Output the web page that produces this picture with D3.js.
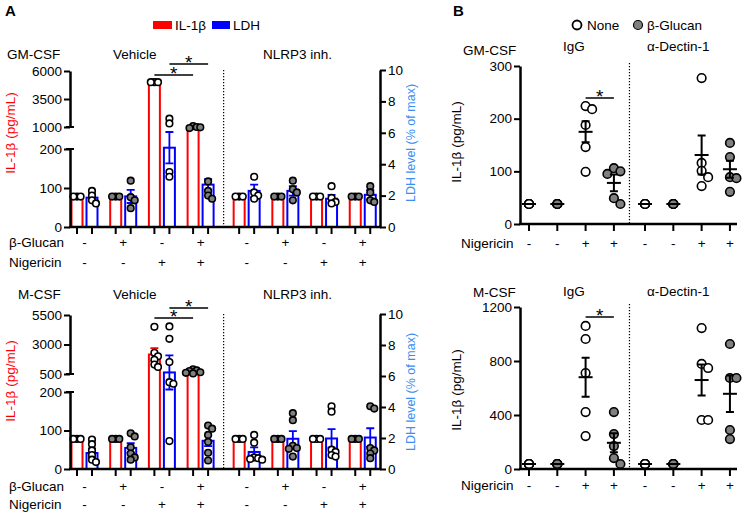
<!DOCTYPE html>
<html>
<head>
<meta charset="utf-8">
<script src="https://cdn.jsdelivr.net/npm/d3@7"></script>
<style>
body { margin: 0; background: #fff; }
svg { font-family: "Liberation Sans", Arial, sans-serif; }
</style>
</head>
<body>
<svg width="744" height="517"></svg>
<script>
// conditions
const glucanA = ["-", "+", "-", "+", "-", "+", "-", "+"];
const nigA = ["-", "-", "+", "+", "-", "-", "+", "+"];
const nigB = ["-", "-", "+", "+", "-", "-", "+", "+"];
const glucanB = [false, true, false, true, false, true, false, true];
const ldhTicks = [0, 2, 4, 6, 8, 10];

// panel A, GM-CSF
const gmIlMean = [78, 78, 5000, 1000, 78, 78, 78, 78];
const gmIlErr = [0, 0, 60, 50, 0, 0, 0, 0];
const gmIlPts = [[78, 78, 78], [78, 78, 78], [5000, 5000, 5000], [1080, 1000, 960, 990],
  [78, 78, 78], [78, 78, 78], [78, 78, 78], [78, 78, 78]];
const gmLdhMean = [1.87, 1.95, 5.05, 2.7, 2.3, 2.3, 1.8, 2.05];
const gmLdhErr = [0.2, 0.42, 1.0, 0.35, 0.4, 0.3, 0.25, 0.3];
const gmLdhPts = [[2.3, 2.0, 1.7, 1.5], [2.95, 1.9, 1.7, 1.2], [6.9, 6.6, 3.5, 3.2], [2.9, 2.3, 2.0, 1.8],
  [3.2, 2.2, 2.0, 1.8], [2.95, 2.4, 2.2, 1.7], [2.6, 1.85, 1.6, 1.5], [2.6, 2.2, 1.7, 1.6]];

// panel A, M-CSF
const mIlMean = [78, 78, 2150, 700, 78, 78, 78, 78];
const mIlErr = [0, 0, 550, 80, 0, 0, 0, 0];
const mIlPts = [[78, 78, 78], [78, 78, 78], [4500, 2300, 2000, 1700, 1300, 1100], [900, 800, 750, 650, 600, 550],
  [78, 78, 78], [78, 78, 78], [78, 78, 78], [78, 78, 78]];
const mLdhMean = [1.03, 1.36, 6.23, 1.82, 1.1, 1.95, 1.97, 2.03];
const mLdhErr = [0.3, 0.3, 1.1, 0.35, 0.3, 0.5, 0.6, 0.6];
const mLdhPts = [[1.9, 1.6, 1.2, 0.9, 0.6, 0.45], [2.3, 2.1, 1.4, 1.0, 0.75, 0.6], [9.2, 8.4, 6.9, 5.6, 5.5, 1.8],
  [2.8, 2.6, 2.2, 1.75, 1.05, 0.55], [2.2, 1.7, 0.75, 0.7, 0.65, 0.6], [3.6, 3.15, 1.5, 1.35, 1.3, 0.8],
  [4.05, 3.7, 1.25, 1.1, 0.9, 0.8], [4.05, 3.9, 1.35, 1.2, 1.0, 0.7]];

// panel B
const bGmPts = [[38, 38, 38, 38, 38], [38, 38, 38, 38, 38], [224, 218, 188, 146, 99], [106, 100, 95, 49, 38],
  [38, 38, 38, 38, 38], [38, 38, 38, 38, 38], [277, 116, 101, 89, 72], [154, 127, 89, 87, 61]];
const bGmMean = [38, 38, 175, 78, 38, 38, 131, 104];
const bGmErr = [0, 0, 20, 16, 0, 0, 37, 16];
const bMPts = [[37, 37, 37, 37, 37], [37, 37, 37, 37, 37], [1060, 963, 711, 422, 244], [422, 259, 170, 81, 37],
  [37, 37, 37, 37, 37], [37, 37, 37, 37, 37], [1044, 778, 748, 363, 363], [926, 674, 674, 289, 222]];
const bMMean = [37, 37, 680, 194, 37, 37, 659, 557];
const bMErr = [0, 0, 145, 70, 0, 0, 115, 135];

const RED = "#ff0000", BLUE = "#0000ff", LBLUE = "#3b8ef2", GRAY = "#808080";
const FS = 13.5;
const svg = d3.select("svg");

// x positions (group index -> pixel), small gap before the 2nd treatment
const xA = d3.scaleLinear().domain([0, 1]).range([84.5, 123.2]);
const gx = i => xA(i + (i >= 4 ? 0.19 : 0));
const xB = d3.scaleLinear().domain([0, 1]).range([529, 557.3]);
const gxB = i => xB(i + (i >= 4 ? 0.1 : 0));
const OFF = 7.5, BW = 11;
const XL = 70, XR = 380, XB = 520, XB2 = 737;

function styleAxis(sel) {
  sel.attr("font-family", null).attr("font-size", null);
  sel.select(".domain").attr("stroke-width", 2.5);
  sel.selectAll(".tick line").attr("stroke-width", 2);
  sel.selectAll(".tick text").attr("font-size", FS).attr("fill", "#000");
}

function txt(g, x, y, s, o = {}) {
  return g.append("text").attr("x", x).attr("y", y).text(s)
    .attr("font-size", o.size || FS).attr("fill", o.fill || "#000")
    .attr("text-anchor", o.anchor || "start").attr("font-weight", o.weight || null);
}

function vtitle(g, x, y, s, fill, size) {
  g.append("text").attr("transform", `translate(${x},${y}) rotate(-90)`)
    .attr("text-anchor", "middle").attr("font-size", size || FS).attr("fill", fill).text(s);
}

// simple dodge so overlapping dots spread sideways
function dodge(vals, y, step, stack) {
  const placed = [];
  const same = vals.every(v => v === vals[0]);
  return vals.map(v => {
    const py = y(v);
    if (stack && same) return [0, py];
    const cands = [0, step, -step, 2 * step, -2 * step];
    let dx = cands.find(c => placed.every(p => Math.hypot(p[0] - c, p[1] - py) >= step * 0.99));
    if (dx === undefined) dx = 0;
    placed.push([dx, py]);
    return [dx, py];
  });
}

function dots(g, ptsArr, xf, y, fillOf, r, step, stack) {
  const flat = [];
  ptsArr.forEach((vals, i) => dodge(vals, y, step, stack).forEach(p => flat.push({ x: xf(i) + p[0], y: p[1], i })));
  g.selectAll(null).data(flat).join("circle")
    .attr("cx", d => d.x).attr("cy", d => d.y).attr("r", r)
    .attr("fill", d => fillOf(d.i)).attr("stroke", "#000").attr("stroke-width", 1.6);
}

function errs(g, means, es, xf, y, color, cap, sw) {
  const d = means.map((m, i) => ({ m, e: es[i], x: xf(i) })).filter(d => d.e > 0);
  g.selectAll(null).data(d).join("path")
    .attr("d", d => `M${d.x},${y(d.m - d.e)}V${y(d.m + d.e)}` +
      `M${d.x - cap},${y(d.m + d.e)}H${d.x + cap}M${d.x - cap},${y(d.m - d.e)}H${d.x + cap}`)
    .attr("fill", "none").attr("stroke", color).attr("stroke-width", sw);
}

function star(g, a, b, yy) {
  g.append("line").attr("x1", a).attr("x2", b).attr("y1", yy).attr("y2", yy)
    .attr("stroke", "#000").attr("stroke-width", 1.5);
  txt(g, (a + b) / 2, yy + 5, "*", { anchor: "middle", size: 19 });
}

function drawA(c) {
  const g = svg.append("g");
  const yLow = d3.scaleLinear().domain([0, 200]).range([c.y0, c.y200]);
  const yUp = d3.scaleLinear().domain([c.upTicks[0], c.upTicks[2]]).range([c.yUpLo, c.yTop]);
  const yIl = d3.scaleLinear().domain([0, 200, c.upTicks[0], c.upTicks[2]])
    .range([c.y0, c.y200, c.yUpLo, c.yTop]);
  const yLdh = d3.scaleLinear().domain([0, 10]).range([c.y0, c.yTop - 1]);
  const xr = i => gx(i) - OFF, xb = i => gx(i) + OFF;
  const fmt = d3.format("d");

  // dotted separator
  const xs = (gx(3) + gx(4)) / 2;
  g.append("line").attr("x1", xs).attr("x2", xs).attr("y1", c.yTop - 1).attr("y2", c.y0)
    .attr("stroke", "#000").attr("stroke-width", 1.2).attr("stroke-dasharray", "1.3,1.7");

  // bars
  g.selectAll(null).data(c.ilMean).join("rect")
    .attr("x", (d, i) => xr(i) - BW / 2).attr("width", BW)
    .attr("y", d => yIl(d)).attr("height", d => c.y0 - yIl(d))
    .attr("fill", "#fff").attr("stroke", RED).attr("stroke-width", 2);
  g.selectAll(null).data(c.ldhMean).join("rect")
    .attr("x", (d, i) => xb(i) - BW / 2).attr("width", BW)
    .attr("y", d => yLdh(d)).attr("height", d => c.y0 - yLdh(d))
    .attr("fill", "#fff").attr("stroke", BLUE).attr("stroke-width", 2);
  errs(g, c.ilMean, c.ilErr, xr, yIl, RED, 4, 1.8);
  errs(g, c.ldhMean, c.ldhErr, xb, yLdh, BLUE, 4, 1.8);

  const fillA = i => glucanA[i] === "+" ? GRAY : "#fff";
  dots(g, c.ilPts, xr, yIl, fillA, 3.3, 3.6, false);
  dots(g, c.ldhPts, xb, yLdh, fillA, 3.3, 4, false);

  // axes
  g.append("g").attr("transform", `translate(${XL},0)`)
    .call(d3.axisLeft(yLow).tickValues([0, 100, 200]).tickFormat(fmt).tickSize(6).tickSizeOuter(0).tickPadding(2))
    .call(styleAxis);
  g.append("g").attr("transform", `translate(${XL},0)`)
    .call(d3.axisLeft(yUp).tickValues(c.upTicks).tickFormat(fmt).tickSize(6).tickSizeOuter(0).tickPadding(2))
    .call(styleAxis);
  [c.y200, c.yUpLo].forEach(yy => g.append("line").attr("x1", XL - 4).attr("x2", XL + 4)
    .attr("y1", yy).attr("y2", yy).attr("stroke", "#000").attr("stroke-width", 2));
  g.append("g").attr("transform", `translate(${XR},0)`)
    .call(d3.axisRight(yLdh).tickValues(ldhTicks).tickFormat(fmt).tickSize(6).tickSizeOuter(0).tickPadding(2))
    .call(styleAxis);
  g.append("line").attr("x1", XL - 1).attr("x2", XR + 1).attr("y1", c.y0).attr("y2", c.y0)
    .attr("stroke", "#000").attr("stroke-width", 2.5);
  const tickX = d3.range(8).flatMap(i => [xr(i), xb(i)]);
  g.selectAll(null).data(tickX).join("line")
    .attr("x1", d => d).attr("x2", d => d).attr("y1", c.y0).attr("y2", c.y0 + 7)
    .attr("stroke", "#000").attr("stroke-width", 2);

  // condition rows
  txt(g, 9, c.rowG, "β-Glucan");
  txt(g, 9, c.rowN, "Nigericin");
  glucanA.forEach((s, i) => txt(g, gx(i), c.rowG, s, { anchor: "middle" }));
  nigA.forEach((s, i) => txt(g, gx(i), c.rowN, s, { anchor: "middle" }));

  // labels
  txt(g, c.cellX, c.labY, c.cell);
  txt(g, 113, c.labY, "Vehicle");
  txt(g, 263, c.labY, "NLRP3 inh.");
  vtitle(g, 15, c.tL, "IL-1β (pg/mL)", RED);
  vtitle(g, 415, c.tR, "LDH level (% of max)", LBLUE, 12.5);

  star(g, xr(2), xr(3), c.s1);
  star(g, xb(2), xb(3), c.s2);
}

drawA({ y0: 227, y200: 149, yUpLo: 127, yTop: 71, upTicks: [1000, 3500, 6000],
  ilMean: gmIlMean, ilErr: gmIlErr, ilPts: gmIlPts, ldhMean: gmLdhMean, ldhErr: gmLdhErr, ldhPts: gmLdhPts,
  rowG: 247, rowN: 267, cell: "GM-CSF", cellX: 7, labY: 59, tL: 133, tR: 143, s1: 75, s2: 64 });
drawA({ y0: 469, y200: 392, yUpLo: 374, yTop: 315, upTicks: [500, 3000, 5500],
  ilMean: mIlMean, ilErr: mIlErr, ilPts: mIlPts, ldhMean: mLdhMean, ldhErr: mLdhErr, ldhPts: mLdhPts,
  rowG: 491, rowN: 509, cell: "M-CSF", cellX: 18, labY: 299, tL: 381, tR: 392, s1: 318, s2: 308 });

function drawB(c) {
  const g = svg.append("g");
  const y = d3.scaleLinear().domain([0, c.ticks[c.ticks.length - 1]]).range([c.y0, c.yTop]);
  const xs = (gxB(3) + gxB(4)) / 2;
  g.append("line").attr("x1", xs).attr("x2", xs).attr("y1", c.yTop - 3).attr("y2", c.y0)
    .attr("stroke", "#000").attr("stroke-width", 1.2).attr("stroke-dasharray", "1.3,1.7");

  dots(g, c.pts, gxB, y, i => glucanB[i] ? GRAY : "#fff", 4.3, 6.5, true);
  errs(g, c.mean, c.err, gxB, y, "#000", 4, 2);
  g.selectAll(null).data(c.mean).join("line")
    .attr("x1", (d, i) => gxB(i) - 7).attr("x2", (d, i) => gxB(i) + 7)
    .attr("y1", d => y(d)).attr("y2", d => y(d)).attr("stroke", "#000").attr("stroke-width", 2);

  g.append("g").attr("transform", `translate(${XB},0)`)
    .call(d3.axisLeft(y).tickValues(c.ticks).tickFormat(d3.format("d")).tickSize(6).tickSizeOuter(0).tickPadding(2))
    .call(styleAxis);
  g.append("line").attr("x1", XB - 1).attr("x2", XB2).attr("y1", c.y0).attr("y2", c.y0)
    .attr("stroke", "#000").attr("stroke-width", 2.5);
  g.selectAll(null).data(d3.range(8)).join("line")
    .attr("x1", i => gxB(i)).attr("x2", i => gxB(i)).attr("y1", c.y0).attr("y2", c.y0 + 7)
    .attr("stroke", "#000").attr("stroke-width", 2);

  txt(g, 461, c.rowN, "Nigericin");
  nigB.forEach((s, i) => txt(g, gxB(i), c.rowN, s, { anchor: "middle" }));
  txt(g, c.cellX, c.cellY, c.cell);
  txt(g, 563, c.labY, "IgG");
  txt(g, 647, c.labY, "α-Dectin-1");
  vtitle(g, 461, c.tL, "IL-1β (pg/mL)", "#000");

  star(g, gxB(2), gxB(3), c.s);
}

drawB({ y0: 224, yTop: 66, ticks: [0, 100, 200, 300], pts: bGmPts, mean: bGmMean, err: bGmErr,
  rowN: 248, cell: "GM-CSF", cellX: 463, cellY: 55, labY: 51, tL: 142, s: 98 });
drawB({ y0: 469, yTop: 307, ticks: [0, 400, 800, 1200], pts: bMPts, mean: bMMean, err: bMErr,
  rowN: 490, cell: "M-CSF", cellX: 473, cellY: 297, labY: 296, tL: 390, s: 317 });

// panel letters and legends
txt(svg, 5, 16, "A", { weight: "bold", size: 15 });
txt(svg, 453, 16, "B", { weight: "bold", size: 15 });
svg.append("rect").attr("x", 153).attr("y", 21).attr("width", 19).attr("height", 8).attr("fill", RED);
txt(svg, 175, 30, "IL-1β");
svg.append("rect").attr("x", 212).attr("y", 21).attr("width", 18).attr("height", 8).attr("fill", BLUE);
txt(svg, 233, 30, "LDH");
svg.append("circle").attr("cx", 577).attr("cy", 25).attr("r", 4.5).attr("fill", "#fff")
  .attr("stroke", "#000").attr("stroke-width", 1.8);
txt(svg, 587, 30, "None");
svg.append("circle").attr("cx", 638).attr("cy", 25).attr("r", 4.5).attr("fill", GRAY)
  .attr("stroke", "#000").attr("stroke-width", 1.2);
txt(svg, 647, 30, "β-Glucan");
</script>
</body>
</html>
